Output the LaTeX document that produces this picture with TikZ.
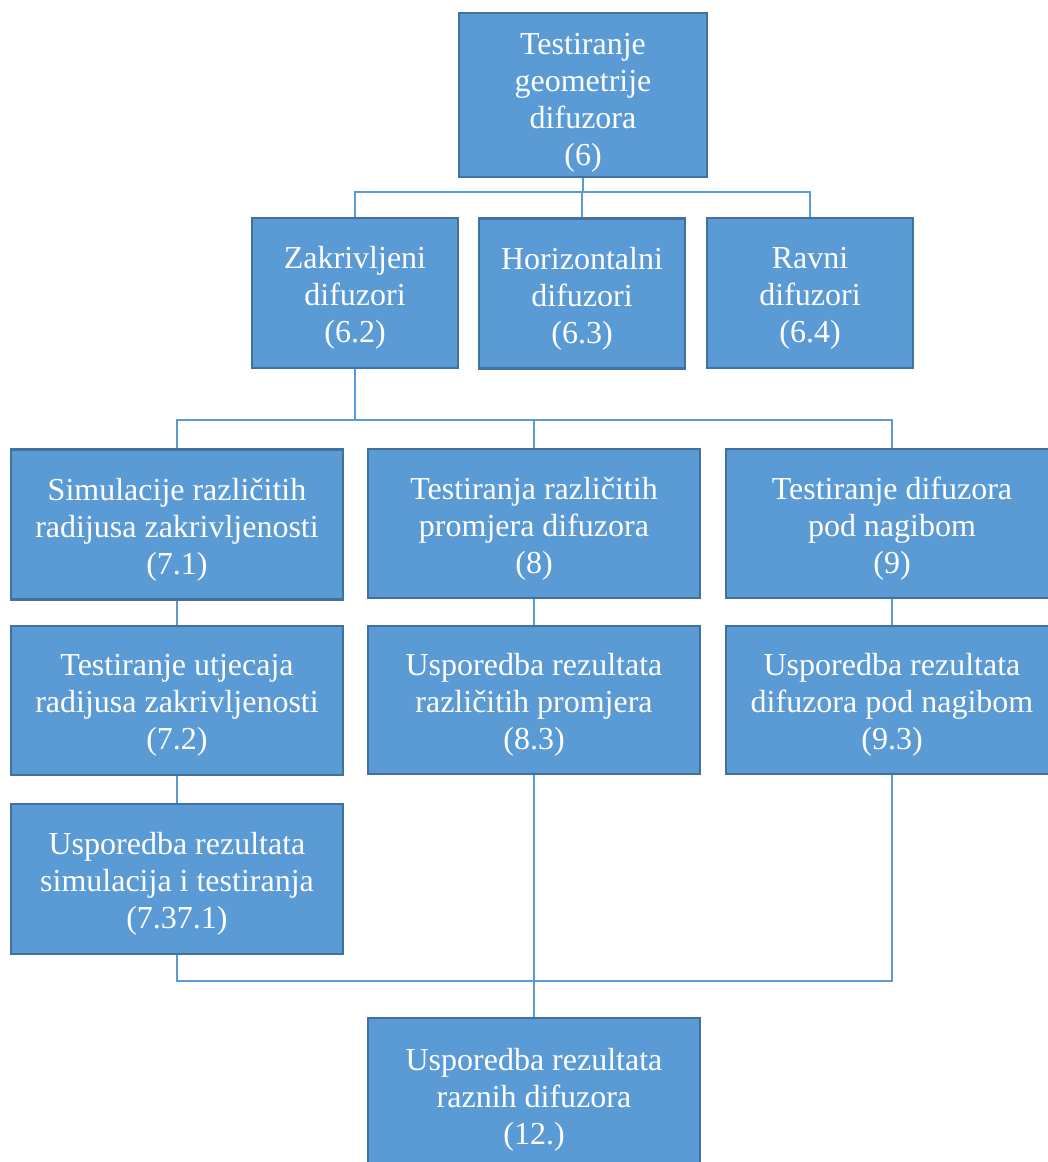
\documentclass[tikz,border=0pt]{standalone}
\usepackage{fontspec}
\setmainfont{Liberation Serif}
\definecolor{boxfill}{HTML}{5B9BD5}
\definecolor{boxline}{HTML}{41719C}
\definecolor{connline}{HTML}{5B9BD5}
\begin{document}
\begin{tikzpicture}[x=1pt,y=-1pt,
  box/.style={draw=boxline, fill=boxfill, line width=2.5pt, inner sep=0pt},
  lbl/.style={text=white, align=center, font=\fontsize{32}{37}\selectfont, inner sep=0pt, yshift=-5pt},
  conn/.style={draw=connline, line width=1.5pt}]
\useasboundingbox (0,0) rectangle (1048,1162);
\node[box, minimum width=248pt, minimum height=164pt, label={[lbl, yshift=-3pt]center:{Testiranje\\geometrije\\difuzora\\(6)}}] (top) at (583,95) {};
\node[box, minimum width=206pt, minimum height=150pt, label={[lbl]center:{Zakrivljeni\\difuzori\\(6.2)}}] (zak) at (355,293) {};
\node[box, minimum width=206pt, minimum height=150pt, label={[lbl]center:{Horizontalni\\difuzori\\(6.3)}}] (hor) at (582,293.5) {};
\node[box, minimum width=206pt, minimum height=150pt, label={[lbl]center:{Ravni\\difuzori\\(6.4)}}] (rav) at (810,293) {};
\node[box, minimum width=332pt, minimum height=150pt, label={[lbl]center:{Simulacije različitih\\radijusa zakrivljenosti\\(7.1)}}] (sim) at (177,524.5) {};
\node[box, minimum width=332pt, minimum height=149pt, label={[lbl]center:{Testiranja različitih\\promjera difuzora\\(8)}}] (tes) at (534,523.5) {};
\node[box, minimum width=332pt, minimum height=149pt, label={[lbl]center:{Testiranje difuzora\\pod nagibom\\(9)}}] (nag) at (892,523.5) {};
\node[box, minimum width=332pt, minimum height=149pt, label={[lbl]center:{Testiranje utjecaja\\radijusa zakrivljenosti\\(7.2)}}] (utj) at (177,700.5) {};
\node[box, minimum width=332pt, minimum height=148pt, label={[lbl]center:{Usporedba rezultata\\različitih promjera\\(8.3)}}] (ura) at (534,700) {};
\node[box, minimum width=332pt, minimum height=148pt, label={[lbl]center:{Usporedba rezultata\\difuzora pod nagibom\\(9.3)}}] (udn) at (892,700) {};
\node[box, minimum width=332pt, minimum height=150pt, label={[lbl]center:{Usporedba rezultata\\simulacija i testiranja\\(7.37.1)}}] (ust) at (177,879) {};
\node[box, minimum width=332pt, minimum height=154pt, label={[lbl]center:{Usporedba rezultata\\raznih difuzora\\(12.)}}] (raz) at (534,1095) {};
\coordinate (bus1) at (0,192);
\coordinate (bus2) at (0,420);
\coordinate (bus3) at (0,981);
\draw[conn] (top.south) -- (top.south |- bus1);
\draw[conn] (zak.north) |- (rav.north |- bus1) -- (rav.north);
\draw[conn] (hor.north) -- (hor.north |- bus1);
\draw[conn] (zak.south) -- (zak.south |- bus2);
\draw[conn] (sim.north) |- (nag.north |- bus2) -- (nag.north);
\draw[conn] (tes.north) -- (tes.north |- bus2);
\draw[conn] (sim.south) -- (utj.north);
\draw[conn] (tes.south) -- (ura.north);
\draw[conn] (nag.south) -- (udn.north);
\draw[conn] (utj.south) -- (ust.north);
\draw[conn] (ust.south) |- (udn.south |- bus3) -- (udn.south);
\draw[conn] (ura.south) -- (raz.north);
\end{tikzpicture}
\end{document}
